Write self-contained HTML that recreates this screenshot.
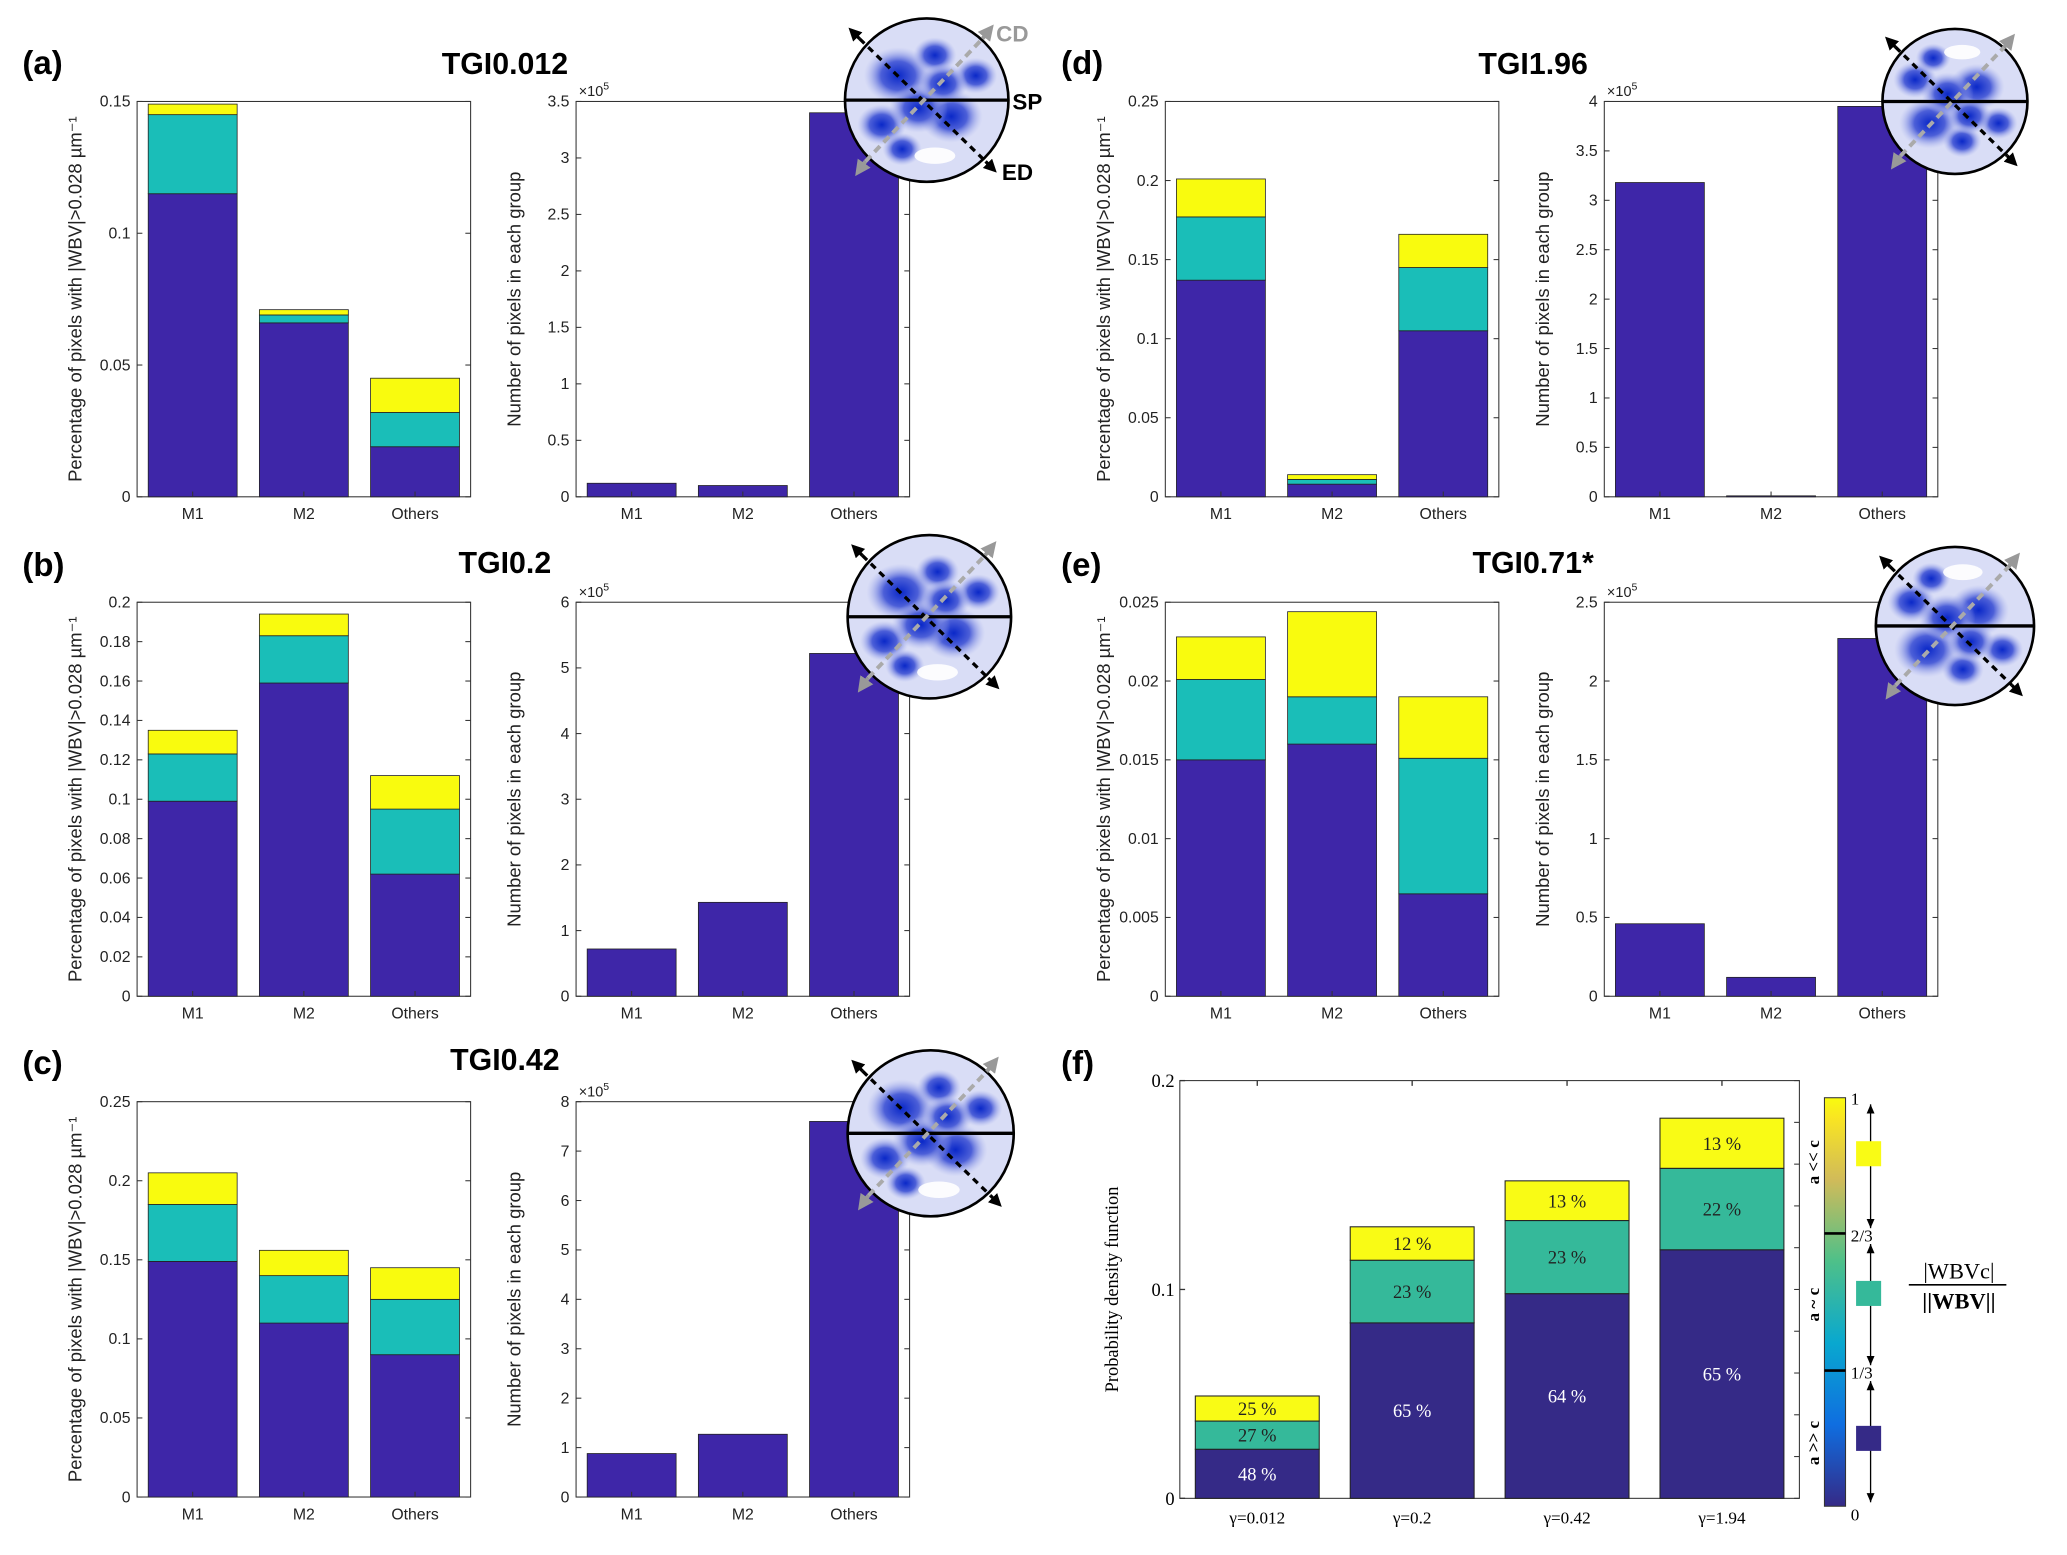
<!DOCTYPE html>
<html><head><meta charset="utf-8"><style>
html,body{margin:0;padding:0;background:#fff}
svg{display:block}
text{font-family:"Liberation Sans",sans-serif}
.ser{font-family:"Liberation Serif",serif}
</style></head><body>
<svg id="fig" width="2067" height="1555" viewBox="0 0 1568 1180" preserveAspectRatio="none" xmlns="http://www.w3.org/2000/svg">
<defs>
<radialGradient id="pfg" cx="50%" cy="50%" r="50%"><stop offset="0" stop-color="#0a28c8"/><stop offset="0.5" stop-color="#4c5fd8"/><stop offset="1" stop-color="#aab3ee" stop-opacity="0"/></radialGradient>
<linearGradient id="parula" x1="0" y1="1" x2="0" y2="0"><stop offset="0" stop-color="#352a87"/><stop offset="0.2" stop-color="#0f6ee0"/><stop offset="0.4" stop-color="#09a8cf"/><stop offset="0.6" stop-color="#4ec089"/><stop offset="0.8" stop-color="#d1bb59"/><stop offset="0.95" stop-color="#f9e522"/><stop offset="1" stop-color="#f9fb0e"/></linearGradient>
<marker id="ahk" viewBox="0 0 10 10" refX="5" refY="5" markerWidth="4" markerHeight="4" orient="auto-start-reverse"><path d="M0,0 L10,5 L0,10 z" fill="#000"/></marker>
<marker id="ahg" viewBox="0 0 10 10" refX="5" refY="5" markerWidth="4" markerHeight="4" orient="auto-start-reverse"><path d="M0,0 L10,5 L0,10 z" fill="#999"/></marker>
</defs>
</svg>
<script>
// ---- data ----
const groups = ["M1","M2","Others"];
const aLow = [0.115,0.066,0.019], aMid=[0.030,0.003,0.013], aHigh=[0.004,0.002,0.013];
const aCount = [0.12,0.10,3.40];
const bLow = [0.099,0.159,0.062], bMid=[0.024,0.024,0.033], bHigh=[0.012,0.011,0.017];
const bCount = [0.72,1.43,5.22];
const cLow = [0.149,0.110,0.090], cMid=[0.036,0.030,0.035], cHigh=[0.020,0.016,0.020];
const cCount = [0.88,1.27,7.60];
const dLow = [0.137,0.008,0.105], dMid=[0.040,0.003,0.040], dHigh=[0.024,0.003,0.021];
const dCount = [3.18,0.01,3.95];
const eLow = [0.0150,0.0160,0.0065], eMid=[0.0051,0.0030,0.0086], eHigh=[0.0027,0.0054,0.0039];
const eCount = [0.46,0.12,2.27];
const fCats = ["\u03b3=0.012","\u03b3=0.2","\u03b3=0.42","\u03b3=1.94"];
const fLow = [0.0235,0.084,0.098,0.119], fMid=[0.0135,0.030,0.035,0.039], fHigh=[0.012,0.016,0.019,0.024];
const fLowLbl=["48 %","65 %","64 %","65 %"], fMidLbl=["27 %","23 %","23 %","22 %"], fHighLbl=["25 %","12 %","13 %","13 %"];

const NS="http://www.w3.org/2000/svg", svg=document.getElementById('fig');
function mk(tag,attrs,parent,txt){const e=document.createElementNS(NS,tag);for(const k in attrs)e.setAttribute(k,attrs[k]);if(txt!==undefined)e.textContent=txt;(parent||svg).appendChild(e);return e;}
const BLUE="#3e26a8",TEAL="#1abeb8",YEL="#f9fb0e";

function chart(name,x0,y0,w,h,ymax,ticks,tickFmt,stacks,colors,yl,exp){
  const g=mk('g',{});
  
  
  const ys=v=>y0+h-v/ymax*h;
  const n=groups.length, step=w/n, bw=step*0.8;
  mk('rect',{x:x0,y:y0,width:w,height:h,fill:'none',stroke:'#333','stroke-width':0.8},g);
  for(const t of ticks){const y=ys(t);
    mk('line',{x1:x0,x2:x0+4,y1:y,y2:y,stroke:'#333','stroke-width':0.8},g);
    mk('line',{x1:x0+w,x2:x0+w-4,y1:y,y2:y,stroke:'#333','stroke-width':0.8},g);
    const tl=mk('text',{x:x0-5,y:y+4,'font-size':12,'text-anchor':'end',fill:'#222'},g,tickFmt(t));
    
    
  }
  groups.forEach((c,i)=>{const cx=x0+step*(i+0.5);
    let base=0;
    stacks.forEach((s,j)=>{const v=s[i];
      const r=mk('rect',{x:cx-bw/2,y:ys(base+v),width:bw,height:ys(base)-ys(base+v),fill:colors[j],stroke:'#222','stroke-width':0.6},g);
      
      
      base+=v;});
    mk('line',{x1:cx,x2:cx,y1:y0+h,y2:y0+h-4,stroke:'#333','stroke-width':0.8},g);
    const xl=mk('text',{x:cx,y:y0+h+17,'font-size':12,'text-anchor':'middle',fill:'#222'},g,c);
    
    
  });
  const lx=x0-42, ly=y0+h/2;
  const at=mk('text',{x:lx,y:ly,'font-size':14,'text-anchor':'middle',fill:'#222',transform:`rotate(-90 ${lx} ${ly})`},g,yl);
  
  
  if(exp){const t=mk('text',{x:x0+2,y:y0-4,'font-size':11,fill:'#222'},g,'\u00d710');mk('tspan',{dy:-5,'font-size':8},t,'5');}
}
const pctL="Percentage of pixels with |WBV|>0.028 \u00b5m\u207b\u00b9", cntL="Number of pixels in each group";
const fmt=t=>String(+t.toFixed(4));
function rng(a,b,s){const r=[];for(let v=a;v<=b+1e-9;v+=s)r.push(+v.toFixed(5));return r;}
chart('chart-a-fraction',104,77,253,300,0.15,rng(0,0.15,0.05),fmt,[aLow,aMid,aHigh],[BLUE,TEAL,YEL],pctL);
chart('chart-a-count',437,77,253,300,3.5,rng(0,3.5,0.5),fmt,[aCount],[BLUE],cntL,true);
chart('chart-b-fraction',104,457,253,299,0.2,rng(0,0.2,0.02),fmt,[bLow,bMid,bHigh],[BLUE,TEAL,YEL],pctL);
chart('chart-b-count',437,457,253,299,6,rng(0,6,1),fmt,[bCount],[BLUE],cntL,true);
chart('chart-c-fraction',104,836,253,300,0.25,rng(0,0.25,0.05),fmt,[cLow,cMid,cHigh],[BLUE,TEAL,YEL],pctL);
chart('chart-c-count',437,836,253,300,8,rng(0,8,1),fmt,[cCount],[BLUE],cntL,true);
chart('chart-d-fraction',884,77,253,300,0.25,rng(0,0.25,0.05),fmt,[dLow,dMid,dHigh],[BLUE,TEAL,YEL],pctL);
chart('chart-d-count',1217,77,253,300,4,rng(0,4,0.5),fmt,[dCount],[BLUE],cntL,true);
chart('chart-e-fraction',884,457,253,299,0.025,rng(0,0.025,0.005),fmt,[eLow,eMid,eHigh],[BLUE,TEAL,YEL],pctL);
chart('chart-e-count',1217,457,253,299,2.5,rng(0,2.5,0.5),fmt,[eCount],[BLUE],cntL,true);

[["(a)",17,56],["(b)",17,437],["(c)",17,815],["(d)",805,56],["(e)",805,437],["(f)",805,815]].forEach(([t,x,y])=>{
  const e=mk('text',{x,y,'font-size':25,'font-weight':'bold',fill:'#000'},svg,t);
  
  });
[["TGI0.012",383,56],["TGI0.2",383,435],["TGI0.42",383,812],["TGI1.96",1163,56],["TGI0.71*",1163,435]].forEach(([t,x,y])=>{
  const e=mk('text',{x,y,'font-size':23,'font-weight':'bold','text-anchor':'middle',fill:'#000'},svg,t);
  
  });

function pole(cx,cy,r,flip,labels){
  const g=mk('g',{});
  
  
  mk('circle',{cx,cy,r,fill:'#d9ddf6'},g);
  const blobs=[[-0.35,-0.3,0.35],[0.3,0.2,0.32],[-0.55,0.3,0.25],[0.1,-0.55,0.22],[0.6,-0.3,0.22],[-0.1,0.1,0.3],[0.2,-0.2,0.25],[-0.3,0.6,0.2]];
  blobs.forEach(([dx,dy,s])=>mk('ellipse',{cx:cx+dx*r,cy:cy+dy*r*flip,rx:s*r*1.2,ry:s*r,fill:'url(#pfg)'},g));
  mk('ellipse',{cx:cx+0.1*r,cy:cy+0.68*r*flip,rx:0.25*r,ry:0.1*r,fill:'#fff',opacity:0.9},g);
  mk('circle',{cx,cy,r,fill:'none',stroke:'#000','stroke-width':2},g);
  mk('line',{x1:cx-r,x2:cx+r,y1:cy,y2:cy,stroke:'#000','stroke-width':2.5},g);
  mk('line',{x1:cx-r*0.82,y1:cy-r*0.75,x2:cx+r*0.72,y2:cy+r*0.75,stroke:'#000','stroke-width':2.5,'stroke-dasharray':'5,4'},g);
  mk('line',{x1:cx-r*0.82,y1:cy-r*0.75,x2:cx-r*0.9,y2:cy-r*0.83,stroke:'#000','stroke-width':2.5,'marker-end':'url(#ahk)'},g);
  mk('line',{x1:cx+r*0.72,y1:cy+r*0.75,x2:cx+r*0.8,y2:cy+r*0.83,stroke:'#000','stroke-width':2.5,'marker-end':'url(#ahk)'},g);
  mk('line',{x1:cx-r*0.75,y1:cy+r*0.75,x2:cx+r*0.68,y2:cy-r*0.75,stroke:'#aaa','stroke-width':3,'stroke-dasharray':'6,4'},g);
  mk('line',{x1:cx+r*0.68,y1:cy-r*0.75,x2:cx+r*0.76,y2:cy-r*0.85,stroke:'#999','stroke-width':3,'marker-end':'url(#ahg)'},g);
  mk('line',{x1:cx-r*0.75,y1:cy+r*0.75,x2:cx-r*0.82,y2:cy+r*0.85,stroke:'#999','stroke-width':3,'marker-end':'url(#ahg)'},g);
  if(labels){
    mk('text',{x:cx+r+3,y:cy+7,'font-size':17,'font-weight':'bold'},g,'SP');
    mk('text',{x:cx+r*0.92,y:cy+r*0.98,'font-size':17,'font-weight':'bold'},g,'ED');
    mk('text',{x:cx+r*0.85,y:cy-r*0.72,'font-size':17,'font-weight':'bold',fill:'#999'},g,'CD');
  }
}
pole(703,76,62,1,true);
pole(705,468,62,1,false);
pole(706,860,63,1,false);
pole(1483,77,55,-1,false);
pole(1483,475,60,-1,false);

(function(){
  const x0=895,y0=820,w=470,h=317,ymax=0.2;
  const g=mk('g',{});
  
  
  const ys=v=>y0+h-v/ymax*h;
  mk('rect',{x:x0,y:y0,width:w,height:h,fill:'none',stroke:'#333','stroke-width':0.8},g);
  for(let t=0;t<=0.2001;t+=0.02){const y=ys(t);
    mk('line',{x1:x0+w,x2:x0+w-4,y1:y,y2:y,stroke:'#333','stroke-width':0.8},g);}
  [0,0.1,0.2].forEach(t=>{const y=ys(t);mk('line',{x1:x0,x2:x0+4,y1:y,y2:y,stroke:'#333'},g);
    const e=mk('text',{x:x0-4,y:y+5,'font-size':14,'text-anchor':'end',class:'ser'},g,String(t));
    
    });
  const step=w/fCats.length,bw=step*0.8;
  const cols=["#352a87","#35b99a","#f9fb15"], lbls=[fLowLbl,fMidLbl,fHighLbl];
  fCats.forEach((c,i)=>{const cx=x0+step*(i+0.5);let base=0;
    [fLow,fMid,fHigh].forEach((s,j)=>{const v=s[i];
      const r=mk('rect',{x:cx-bw/2,y:ys(base+v),width:bw,height:ys(base)-ys(base+v),fill:cols[j],stroke:'#222','stroke-width':0.8},g);
      
      
      const lt=mk('text',{x:cx,y:(ys(base)+ys(base+v))/2+5,'font-size':14,'text-anchor':'middle',class:'ser',fill:j==0?'#fff':'#222'},g,lbls[j][i]);
      
      
      base+=v;});
    mk('line',{x1:cx,x2:cx,y1:y0,y2:y0+4,stroke:'#333'},g);
    const xl=mk('text',{x:cx,y:y0+h+19,'font-size':13,'text-anchor':'middle',class:'ser'},g,c);
    
    
  });
  const lx=848,ly=y0+h/2;
  const at=mk('text',{x:lx,y:ly,'font-size':14,'text-anchor':'middle',class:'ser',transform:`rotate(-90 ${lx} ${ly})`},g,'Probability density function');
  
  
  const cb=mk('rect',{x:1384,y:833,width:16,height:310,fill:'url(#parula)',stroke:'#333','stroke-width':0.8},g);
  
  
  mk('line',{x1:1384,x2:1400,y1:936,y2:936,stroke:'#000','stroke-width':2},g);
  mk('line',{x1:1384,x2:1400,y1:1040,y2:1040,stroke:'#000','stroke-width':2},g);
  [["1",838],["2/3",942],["1/3",1046],["0",1154]].forEach(([t,y])=>mk('text',{x:1404,y,'font-size':13,class:'ser'},g,t));
  [[838,932],[944,1036],[1048,1140]].forEach(([a,b])=>{mk('line',{x1:1419,x2:1419,y1:a,y2:b,stroke:'#000'},g);
    mk('polygon',{points:`1416,${a+7} 1422,${a+7} 1419,${a}`},g);mk('polygon',{points:`1416,${b-7} 1422,${b-7} 1419,${b}`},g);});
  mk('rect',{x:1408,y:866,width:19,height:19,fill:'#f9fb15'},g);
  mk('rect',{x:1408,y:972,width:19,height:19,fill:'#35b99a'},g);
  mk('rect',{x:1408,y:1082,width:19,height:19,fill:'#352a87'},g);
  [["a << c",882],["a ~ c",990],["a >> c",1095]].forEach(([t,y])=>mk('text',{x:1380,y,'font-size':13,'font-weight':'bold','text-anchor':'middle',class:'ser',transform:`rotate(-90 1380 ${y})`},g,t));
  mk('text',{x:1486,y:970,'font-size':17,'text-anchor':'middle',class:'ser'},g,'|WBVc|');
  mk('line',{x1:1448,x2:1522,y1:975,y2:975,stroke:'#000','stroke-width':1.2},g);
  mk('text',{x:1486,y:993,'font-size':17,'font-weight':'bold','text-anchor':'middle',class:'ser'},g,'||WBV||');
})();
</script>
</body></html>
